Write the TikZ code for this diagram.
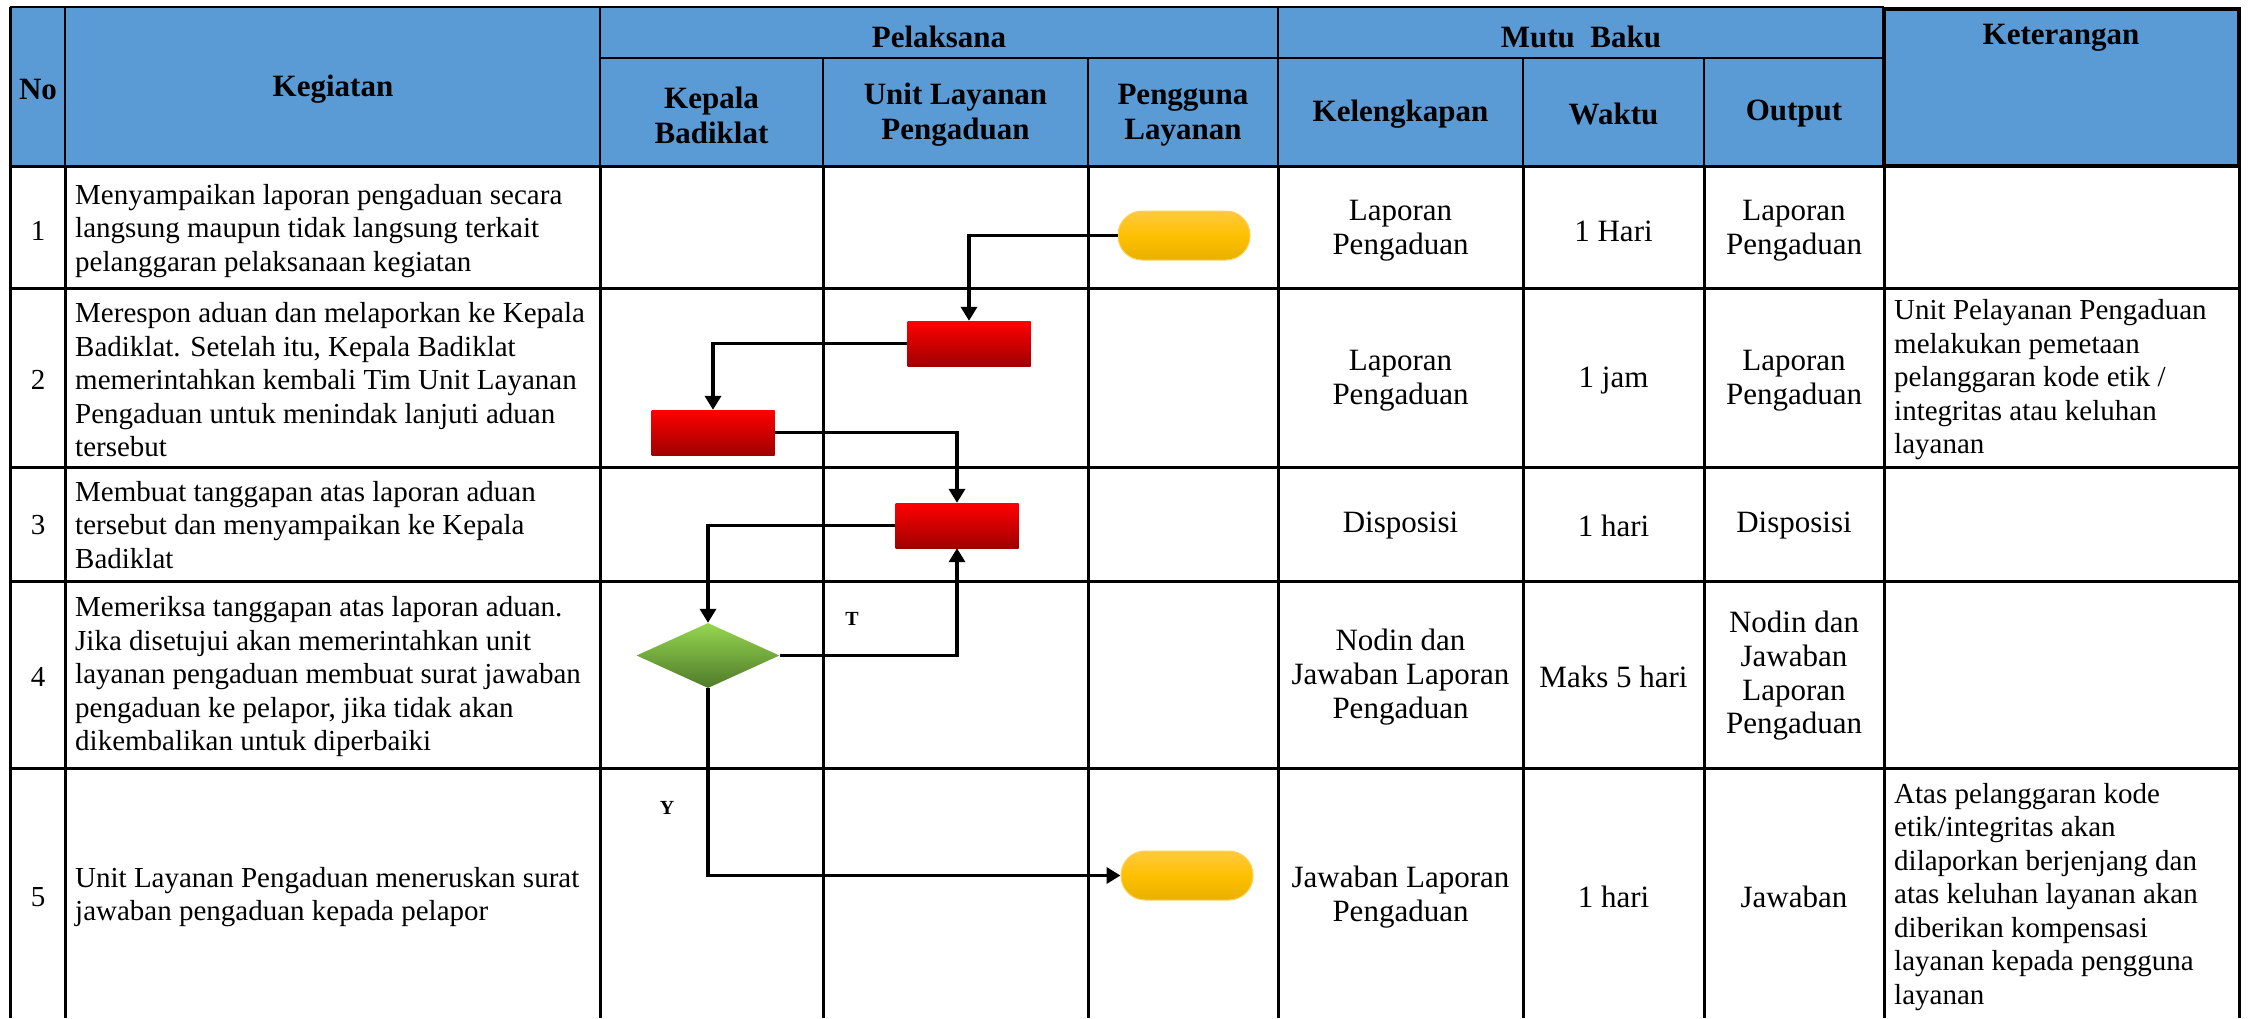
\documentclass[tikz,border=0pt]{standalone}
\usepackage{fontspec}
\setmainfont{Liberation Serif}
\usetikzlibrary{shapes.geometric,arrows.meta}
\definecolor{hdr}{HTML}{5B9BD5}
\definecolor{redtop}{HTML}{FF0000}
\definecolor{redbot}{HTML}{A00000}
\definecolor{yeltop}{HTML}{FFC93F}
\definecolor{yelmid}{HTML}{FFC000}
\definecolor{yelbot}{HTML}{E8B000}
\definecolor{yelline}{HTML}{FFD35A}
\definecolor{grtop}{HTML}{96D650}
\definecolor{grbot}{HTML}{4F7A2A}
\tikzset{
  tline/.style={line width=3pt},
  hline/.style={line width=1.6pt},
  body/.style={font=\fontsize{29}{33.5}\selectfont, inner sep=0pt, align=left, anchor=west},
  num/.style={font=\fontsize{29}{33.5}\selectfont, inner sep=0pt},
  mb/.style={font=\fontsize{31}{33.7}\selectfont, inner sep=0pt, align=center},
  hd/.style={font=\bfseries\fontsize{31}{35}\selectfont, inner sep=0pt, align=center},
  proc/.style={rectangle, minimum width=123pt, minimum height=45pt, inner sep=0pt, top color=redtop, bottom color=redbot},
  term/.style={rectangle, rounded corners=24pt, minimum width=132pt, minimum height=49pt, inner sep=0pt, top color=yeltop, bottom color=yelbot, middle color=yelmid, draw=yelline, line width=1pt},
  dec/.style={diamond, aspect=2.2, minimum width=143pt, minimum height=65pt, inner sep=0pt, top color=grtop, bottom color=grbot},
  flow/.style={line width=3.5pt, -{Triangle[length=14pt,width=16pt]}},
  lab/.style={font=\bfseries\fontsize{20}{22}\selectfont, inner sep=0pt},
}
\begin{document}
\begin{tikzpicture}[x=1pt,y=-1pt]
\useasboundingbox (0,0) rectangle (2248,1018);
\fill[white] (0,0) rectangle (2248,1018);
% header background
\fill[hdr] (10,7) rectangle (1884,166);
\draw[line width=4pt, fill=hdr] (1884,9) rectangle (2239,166);
% header lines
\draw[line width=2pt] (10,7) -- (1884,7);
\draw[hline] (600,58) -- (1884,58);
\foreach \x in {65,600,1278} \draw[hline] (\x,7) -- (\x,166);
\foreach \x in {823,1088,1523,1704} \draw[hline] (\x,58) -- (\x,166);
\draw[tline] (10,7) -- (10,166);
\draw[tline] (10,166) -- (1884,166);
% body lines
\foreach \x in {10,65,600,823,1088,1278,1523,1704,1884,2239} \draw[tline] (\x,166) -- (\x,1018);
\foreach \y in {288,467,581,768} \draw[tline] (10,\y) -- (2239,\y);

% header texts
\node[hd] (hNo) at (38,89) {No};
\node[hd] (hKeg) at (333,89) {Kegiatan};
\node[hd] (hPel) at (939,37) {Pelaksana};
\node[hd] (hKB) at (711.5,115) {Kepala\\Badiklat};
\node[hd] (hULP) at (955.5,115) {Unit Layanan\\Pengaduan};
\node[hd] (hPL) at (1183,115) {Pengguna\\Layanan};
\node[hd] (hMB) at (1581,37) {Mutu\ \ Baku};
\node[hd] (hKel) at (1400.5,114) {Kelengkapan};
\node[hd] (hWak) at (1613.5,114) {Waktu};
\node[hd] (hOut) at (1794,114) {Output};
\node[hd] (hKet) at (2061,38) {Keterangan};

% numbers
\node[num] (n1) at (38,231) {1};
\node[num] (n2) at (38,380) {2};
\node[num] (n3) at (38,525) {3};
\node[num] (n4) at (38,677) {4};
\node[num] (n5) at (38,897) {5};

% kegiatan
\node[body] (k1) at (75,231) {Menyampaikan laporan pengaduan secara\\langsung maupun tidak langsung terkait\\pelanggaran pelaksanaan kegiatan};
\node[body] (k2) at (75,380) {Merespon aduan dan melaporkan ke Kepala\\Badiklat. Setelah itu, Kepala Badiklat\\memerintahkan kembali Tim Unit Layanan\\Pengaduan untuk menindak lanjuti aduan\\tersebut};
\node[body] (k3) at (75,525) {Membuat tanggapan atas laporan aduan\\tersebut dan menyampaikan ke Kepala\\Badiklat};
\node[body] (k4) at (75,677) {Memeriksa tanggapan atas laporan aduan.\\Jika disetujui akan memerintahkan unit\\layanan pengaduan membuat surat jawaban\\pengaduan ke pelapor, jika tidak akan\\dikembalikan untuk diperbaiki};
\node[body] (k5) at (75,897) {Unit Layanan Pengaduan meneruskan surat\\jawaban pengaduan kepada pelapor};

% mutu baku
\node[mb] (kel1) at (1400.5,231) {Laporan\\Pengaduan};
\node[mb] (wak1) at (1613.5,231) {1 Hari};
\node[mb] (out1) at (1794,231) {Laporan\\Pengaduan};
\node[mb] (kel2) at (1400.5,381) {Laporan\\Pengaduan};
\node[mb] (wak2) at (1613.5,381) {1 jam};
\node[mb] (out2) at (1794,381) {Laporan\\Pengaduan};
\node[mb] (kel3) at (1400.5,526) {Disposisi};
\node[mb] (wak3) at (1613.5,526) {1 hari};
\node[mb] (out3) at (1794,526) {Disposisi};
\node[mb] (kel4) at (1400.5,677) {Nodin dan\\Jawaban Laporan\\Pengaduan};
\node[mb] (wak4) at (1613.5,677) {Maks 5 hari};
\node[mb] (out4) at (1794,676) {Nodin dan\\Jawaban\\Laporan\\Pengaduan};
\node[mb] (kel5) at (1400.5,897) {Jawaban Laporan\\Pengaduan};
\node[mb] (wak5) at (1613.5,897) {1 hari};
\node[mb] (out5) at (1794,897) {Jawaban};

% keterangan
\node[body] (ket2) at (1894,380) {Unit Pelayanan Pengaduan\\melakukan pemetaan\\pelanggaran kode etik /\\integritas atau keluhan\\layanan};
\node[body] (ket5) at (1894,897) {Atas pelanggaran kode\\etik/integritas akan\\dilaporkan berjenjang dan\\atas keluhan layanan akan\\diberikan kompensasi\\layanan kepada pengguna\\layanan};

% flowchart shapes
\node[term] (t1) at (1184,235.5) {};
\node[proc] (b1) at (969,343.5) {};
\node[proc] (b2) at (713,432.5) {};
\node[proc] (b3) at (957,525.5) {};
\node[dec] (d) at (708,655.5) {};
\node[term] (t2) at (1187,875.5) {};

% connectors
\draw[flow] (t1.west) -| (b1.north);
\draw[flow] (b1.west) -| (b2.north);
\draw[flow] (b2.east) -| (b3.north);
\draw[flow] (b3.west) -| (d.north);
\draw[flow] (d.east) -| (b3.south);
\draw[flow] (d.south) |- (t2.west);

% labels
\node[lab] (lT) at (852,619) {T};
\node[lab] (lY) at (667,808) {Y};
\end{tikzpicture}
\end{document}
